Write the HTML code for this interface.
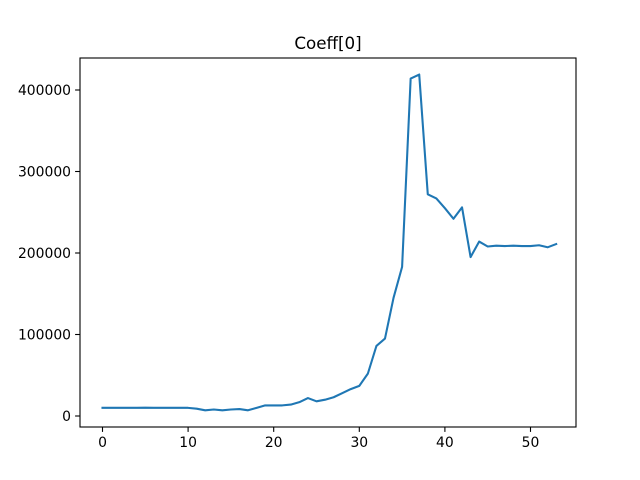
<!DOCTYPE html>
<html><head><meta charset="utf-8"><style>
body{margin:0;background:#fff}
svg{display:block;font-family:"DejaVu Sans","Liberation Sans",sans-serif}
</style></head><body>
<svg id="chart" width="640" height="480">
<rect x="0" y="0" width="640" height="480" fill="#fff"/>
<text x="328" y="49" font-size="16.7" text-anchor="middle">Coeff[0]</text>
<g id="xt"></g><g id="yt"></g>
<path id="ln" fill="none" stroke="#1f77b4" stroke-width="2.08" stroke-linejoin="round" stroke-linecap="square"/>
<rect x="80" y="58" width="496" height="369" fill="none" stroke="#000" stroke-width="1.1"/>
</svg>
<script>
const values=[10000,10000,10000,10000,10000,10200,10000,10000,10000,10000,10000,9000,7000,8000,7000,8000,8500,7000,10000,13000,13000,13000,14000,17000,22000,18000,20000,23000,28000,33000,37000,52000,86000,95000,145000,183000,414000,419000,272000,267000,255000,242000,256000,195000,214000,208000,209000,208500,209000,208500,208500,209500,207000,211000];
const xTicks=[0,10,20,30,40,50];
const yTicks=[0,100000,200000,300000,400000];
const ns="http://www.w3.org/2000/svg";
const X=v=>102.5+(v)*8.56;
const Y=v=>416-v*326/400000;
let d="";
values.forEach((v,i)=>{d+=(i?"L":"M")+X(i).toFixed(2)+","+Y(v).toFixed(2);});
document.getElementById("ln").setAttribute("d",d);
const xt=document.getElementById("xt"),yt=document.getElementById("yt");
xTicks.forEach(t=>{
 const l=document.createElementNS(ns,"line");
 l.setAttribute("x1",X(t));l.setAttribute("x2",X(t));l.setAttribute("y1",427);l.setAttribute("y2",431.9);l.setAttribute("stroke","#000");l.setAttribute("stroke-width","1.1");
 
 
 xt.appendChild(l);
 const s=document.createElementNS(ns,"text");
 s.setAttribute("x",X(t));s.setAttribute("y",447);s.setAttribute("font-size","13.9");s.setAttribute("text-anchor","middle");s.textContent=t;
 
 
 xt.appendChild(s);
});
yTicks.forEach(t=>{
 const l=document.createElementNS(ns,"line");
 l.setAttribute("x1",75.1);l.setAttribute("x2",80);l.setAttribute("y1",Y(t));l.setAttribute("y2",Y(t));l.setAttribute("stroke","#000");l.setAttribute("stroke-width","1.1");
 
 
 yt.appendChild(l);
 const s=document.createElementNS(ns,"text");
 s.setAttribute("x",71);s.setAttribute("y",Y(t)+5);s.setAttribute("font-size","13.9");s.setAttribute("text-anchor","end");s.textContent=t;
 
 
 yt.appendChild(s);
});
</script>
</body></html>
